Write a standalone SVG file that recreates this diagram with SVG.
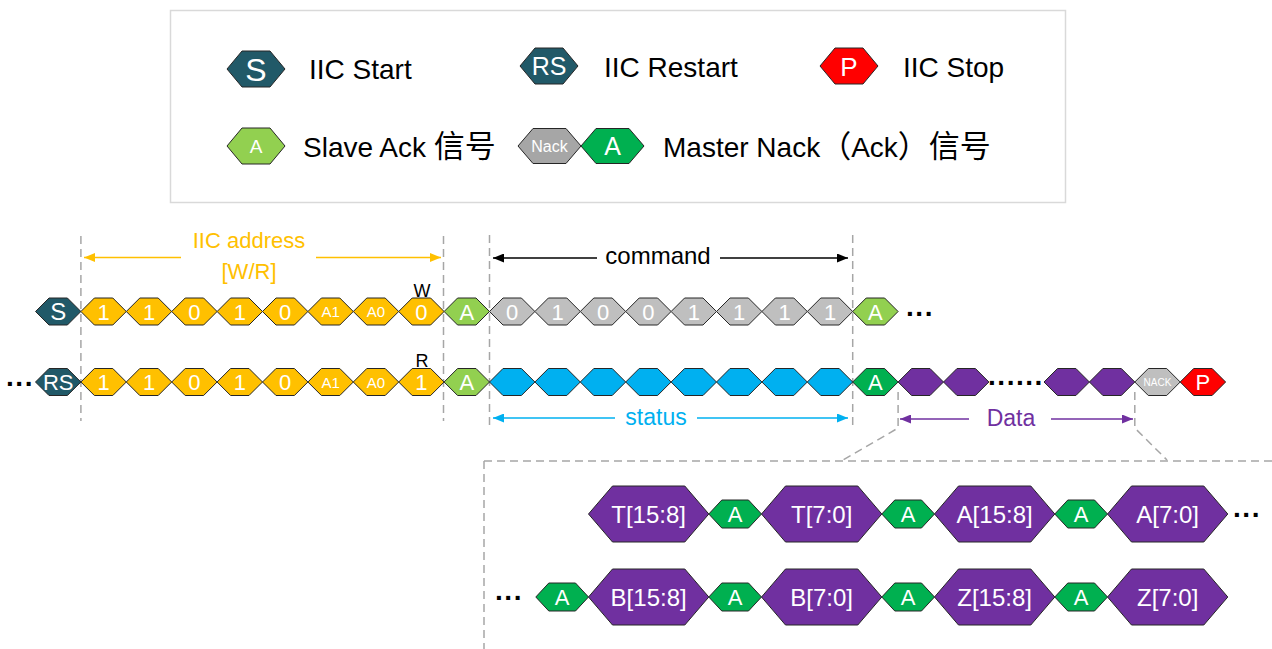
<svg xmlns="http://www.w3.org/2000/svg" width="1272" height="649" viewBox="0 0 1272 649">
<style>
text{font-family:"Liberation Sans","Noto Sans CJK SC",sans-serif}
.n{stroke:#262626;stroke-width:1;stroke-linejoin:miter}
.teal{fill:#215968}.yel{fill:#ffc000}.lg{fill:#92d050}.gr{fill:#bfbfbf}.gr2{fill:#a6a6a6}
.bl{fill:#00b0f0}.dg{fill:#00b050}.pu{fill:#7030a0}.red{fill:#ff0000}
.w{fill:#fff;text-anchor:middle}
.f22{font-size:22px}.f24{font-size:24px}.f14{font-size:15px}
.lbl{font-size:28px;fill:#000}
.cjk{font-size:31px}
.dash{stroke:#a6a6a6;stroke-width:1.5;stroke-dasharray:8 5;fill:none}
.dots{font-size:28px;font-weight:bold;fill:#000}
</style>
<defs>
<polygon id="hx" points="0,0 13.5,-13.5 31.9,-13.5 45.4,0 31.9,13.5 13.5,13.5"/>
<polygon id="lh" points="0,0 15,-18 43,-18 58,0 43,18 15,18"/>
<polygon id="lh2" points="0,0 15,-17.5 48,-17.5 63,0 48,17.5 15,17.5"/>
<polygon id="bh" points="0,0 24,-28 96.3,-28 120.3,0 96.3,28 24,28"/>
<polygon id="sh" points="0,0 13,-14 39.7,-14 52.7,0 39.7,14 13,14"/>
<marker id="mY" markerUnits="userSpaceOnUse" markerWidth="11" markerHeight="9" refX="11" refY="4.5" orient="auto"><path d="M0,0 L11,4.5 L0,9 z" fill="#ffc000"/></marker>
<marker id="mK" markerUnits="userSpaceOnUse" markerWidth="11" markerHeight="9" refX="11" refY="4.5" orient="auto"><path d="M0,0 L11,4.5 L0,9 z" fill="#000"/></marker>
<marker id="mB" markerUnits="userSpaceOnUse" markerWidth="11" markerHeight="9" refX="11" refY="4.5" orient="auto"><path d="M0,0 L11,4.5 L0,9 z" fill="#00b0f0"/></marker>
<marker id="mP" markerUnits="userSpaceOnUse" markerWidth="11" markerHeight="9" refX="11" refY="4.5" orient="auto"><path d="M0,0 L11,4.5 L0,9 z" fill="#7030a0"/></marker>
</defs>
<rect width="1272" height="649" fill="#fff"/>

<!-- legend -->
<g id="legend">
<rect x="170.5" y="10.5" width="895" height="192" fill="#fff" stroke="#d9d9d9" stroke-width="1.5"/>
<g id="leg-start"><use href="#lh" x="227" y="69" class="n teal"/><text x="256" y="81" class="w" font-size="32">S</text><text x="309" y="79" class="lbl">IIC Start</text></g>
<g id="leg-restart"><use href="#lh" x="520" y="66" class="n teal"/><text x="549" y="75" class="w" font-size="25">RS</text><text x="604" y="77" class="lbl">IIC Restart</text></g>
<g id="leg-stop"><use href="#lh" x="820" y="66" class="n red"/><text x="849" y="75.5" class="w" font-size="26">P</text><text x="903" y="77" class="lbl">IIC Stop</text></g>
<g id="leg-slaveack"><use href="#lh" x="227" y="146" class="n lg"/><text x="256" y="153" class="w" font-size="19">A</text><text x="303" y="157" class="lbl">Slave Ack <tspan class="cjk">信号</tspan></text></g>
<g id="leg-masternack"><use href="#lh2" x="518" y="146" class="n gr2"/><text x="549.5" y="152" class="w" font-size="16">Nack</text><use href="#lh2" x="581" y="146" class="n dg"/><text x="612.5" y="155" class="w" font-size="25">A</text><text x="663" y="157" class="lbl">Master Nack<tspan class="cjk">（</tspan>Ack<tspan class="cjk">）信号</tspan></text></g>
</g>

<!-- connectors -->
<g id="connectors">
<line class="dash" x1="80.9" y1="236" x2="80.9" y2="421"/>
<line class="dash" x1="443.5" y1="236" x2="443.5" y2="421"/>
<line class="dash" x1="489.5" y1="235" x2="489.5" y2="428"/>
<line class="dash" x1="852.7" y1="235" x2="852.7" y2="428"/>
<polyline class="dash" points="898.1,392 898.1,428 843,460"/>
<polyline class="dash" points="1134.8,392 1134.8,428 1167,460"/>
<line class="dash" x1="484" y1="461" x2="1272" y2="461"/>
<line class="dash" x1="484" y1="461" x2="484" y2="649"/>
<line x1="181" y1="257.5" x2="84" y2="257.5" stroke="#ffc000" stroke-width="1.3" marker-end="url(#mY)"/>
<line x1="316" y1="257.5" x2="441" y2="257.5" stroke="#ffc000" stroke-width="1.3" marker-end="url(#mY)"/>
<line x1="597" y1="258" x2="493" y2="258" stroke="#000" stroke-width="1.3" marker-end="url(#mK)"/>
<line x1="720" y1="258" x2="848" y2="258" stroke="#000" stroke-width="1.3" marker-end="url(#mK)"/>
<line x1="615" y1="418" x2="493" y2="418" stroke="#00b0f0" stroke-width="1.3" marker-end="url(#mB)"/>
<line x1="697" y1="418" x2="848" y2="418" stroke="#00b0f0" stroke-width="1.3" marker-end="url(#mB)"/>
<line x1="969" y1="419" x2="900" y2="419" stroke="#7030a0" stroke-width="1.3" marker-end="url(#mP)"/>
<line x1="1051" y1="419" x2="1133" y2="419" stroke="#7030a0" stroke-width="1.3" marker-end="url(#mP)"/>
<text x="249" y="248" font-size="22" fill="#ffc000" text-anchor="middle">IIC address</text>
<text x="249" y="279" font-size="22" fill="#ffc000" text-anchor="middle">[W/R]</text>
<text x="658" y="264" font-size="24" fill="#000" text-anchor="middle">command</text>
<text x="656" y="425" font-size="23" fill="#00b0f0" text-anchor="middle">status</text>
<text x="1011" y="426" font-size="23" fill="#7030a0" text-anchor="middle">Data</text>
</g>

<!-- row 1 -->
<g id="row1">
<g id="r1-s"><use href="#hx" x="35.5" y="311.5" class="n teal"/><text x="58.2" y="320" class="w f24">S</text></g>
<g id="r1-b7"><use href="#hx" x="80.9" y="311.5" class="n yel"/><text x="103.6" y="319.5" class="w f22">1</text></g>
<g id="r1-b6"><use href="#hx" x="126.3" y="311.5" class="n yel"/><text x="149" y="319.5" class="w f22">1</text></g>
<g id="r1-b5"><use href="#hx" x="171.7" y="311.5" class="n yel"/><text x="194.4" y="319.5" class="w f22">0</text></g>
<g id="r1-b4"><use href="#hx" x="217.1" y="311.5" class="n yel"/><text x="239.8" y="319.5" class="w f22">1</text></g>
<g id="r1-b3"><use href="#hx" x="262.5" y="311.5" class="n yel"/><text x="285.2" y="319.5" class="w f22">0</text></g>
<g id="r1-b2"><use href="#hx" x="307.9" y="311.5" class="n yel"/><text x="330.6" y="317" class="w f14">A1</text></g>
<g id="r1-b1"><use href="#hx" x="353.3" y="311.5" class="n yel"/><text x="376" y="317" class="w f14">A0</text></g>
<g id="r1-b0"><use href="#hx" x="398.7" y="311.5" class="n yel"/><text x="421.4" y="319.5" class="w f22">0</text><text x="422" y="297" font-size="18" fill="#000" text-anchor="middle">W</text></g>
<g id="r1-ack1"><use href="#hx" x="444.1" y="311.5" class="n lg"/><text x="466.8" y="319.5" class="w f22">A</text></g>
<g id="r1-c7"><use href="#hx" x="489.5" y="311.5" class="n gr"/><text x="512.2" y="319.5" class="w f22">0</text></g>
<g id="r1-c6"><use href="#hx" x="534.9" y="311.5" class="n gr"/><text x="557.6" y="319.5" class="w f22">1</text></g>
<g id="r1-c5"><use href="#hx" x="580.3" y="311.5" class="n gr"/><text x="603" y="319.5" class="w f22">0</text></g>
<g id="r1-c4"><use href="#hx" x="625.7" y="311.5" class="n gr"/><text x="648.4" y="319.5" class="w f22">0</text></g>
<g id="r1-c3"><use href="#hx" x="671.1" y="311.5" class="n gr"/><text x="693.8" y="319.5" class="w f22">1</text></g>
<g id="r1-c2"><use href="#hx" x="716.5" y="311.5" class="n gr"/><text x="739.2" y="319.5" class="w f22">1</text></g>
<g id="r1-c1"><use href="#hx" x="761.9" y="311.5" class="n gr"/><text x="784.6" y="319.5" class="w f22">1</text></g>
<g id="r1-c0"><use href="#hx" x="807.3" y="311.5" class="n gr"/><text x="830" y="319.5" class="w f22">1</text></g>
<g id="r1-ack2"><use href="#hx" x="852.7" y="311.5" class="n lg"/><text x="875.4" y="319.5" class="w f22">A</text></g>
<text x="906" y="323" class="dots">···</text>
</g>

<!-- row 2 -->
<g id="row2">
<text x="6" y="393" class="dots">···</text>
<g id="r2-rs"><use href="#hx" x="35.5" y="382" class="n teal"/><text x="58.2" y="390" class="w f22">RS</text></g>
<g id="r2-b7"><use href="#hx" x="80.9" y="382" class="n yel"/><text x="103.6" y="390" class="w f22">1</text></g>
<g id="r2-b6"><use href="#hx" x="126.3" y="382" class="n yel"/><text x="149" y="390" class="w f22">1</text></g>
<g id="r2-b5"><use href="#hx" x="171.7" y="382" class="n yel"/><text x="194.4" y="390" class="w f22">0</text></g>
<g id="r2-b4"><use href="#hx" x="217.1" y="382" class="n yel"/><text x="239.8" y="390" class="w f22">1</text></g>
<g id="r2-b3"><use href="#hx" x="262.5" y="382" class="n yel"/><text x="285.2" y="390" class="w f22">0</text></g>
<g id="r2-b2"><use href="#hx" x="307.9" y="382" class="n yel"/><text x="330.6" y="387.5" class="w f14">A1</text></g>
<g id="r2-b1"><use href="#hx" x="353.3" y="382" class="n yel"/><text x="376" y="387.5" class="w f14">A0</text></g>
<g id="r2-b0"><use href="#hx" x="398.7" y="382" class="n yel"/><text x="421.4" y="390" class="w f22">1</text><text x="422" y="367" font-size="18" fill="#000" text-anchor="middle">R</text></g>
<g id="r2-ack1"><use href="#hx" x="444.1" y="382" class="n lg"/><text x="466.8" y="390" class="w f22">A</text></g>
<g id="r2-s7"><use href="#hx" x="489.5" y="382" class="n bl"/></g>
<g id="r2-s6"><use href="#hx" x="534.9" y="382" class="n bl"/></g>
<g id="r2-s5"><use href="#hx" x="580.3" y="382" class="n bl"/></g>
<g id="r2-s4"><use href="#hx" x="625.7" y="382" class="n bl"/></g>
<g id="r2-s3"><use href="#hx" x="671.1" y="382" class="n bl"/></g>
<g id="r2-s2"><use href="#hx" x="716.5" y="382" class="n bl"/></g>
<g id="r2-s1"><use href="#hx" x="761.9" y="382" class="n bl"/></g>
<g id="r2-s0"><use href="#hx" x="807.3" y="382" class="n bl"/></g>
<g id="r2-ack2"><use href="#hx" x="852.7" y="382" class="n dg"/><text x="875.4" y="390" class="w f22">A</text></g>
<g id="r2-d1"><use href="#hx" x="898.1" y="382" class="n pu"/></g>
<g id="r2-d2"><use href="#hx" x="943.5" y="382" class="n pu"/></g>
<text x="988" y="392" class="dots">······</text>
<g id="r2-d3"><use href="#hx" x="1044" y="382" class="n pu"/></g>
<g id="r2-d4"><use href="#hx" x="1089.4" y="382" class="n pu"/></g>
<g id="r2-nack"><use href="#hx" x="1134.8" y="382" class="n gr"/><text x="1157.5" y="386" class="w" font-size="10">NACK</text></g>
<g id="r2-p"><use href="#hx" x="1180.2" y="382" class="n red"/><text x="1202.9" y="390" class="w f22">P</text></g>
</g>

<!-- detail row A -->
<g id="detailA">
<g id="dA-t158"><use href="#bh" x="588.5" y="514" class="n pu"/><text x="648.65" y="522.5" class="w f24">T[15:8]</text></g>
<g id="dA-a1"><use href="#sh" x="708.8" y="514" class="n dg"/><text x="735.15" y="522" class="w f22">A</text></g>
<g id="dA-t70"><use href="#bh" x="761.5" y="514" class="n pu"/><text x="821.65" y="522.5" class="w f24">T[7:0]</text></g>
<g id="dA-a2"><use href="#sh" x="881.8" y="514" class="n dg"/><text x="908.15" y="522" class="w f22">A</text></g>
<g id="dA-a158"><use href="#bh" x="934.5" y="514" class="n pu"/><text x="994.65" y="522.5" class="w f24">A[15:8]</text></g>
<g id="dA-a3"><use href="#sh" x="1054.8" y="514" class="n dg"/><text x="1081.15" y="522" class="w f22">A</text></g>
<g id="dA-a70"><use href="#bh" x="1107.5" y="514" class="n pu"/><text x="1167.65" y="522.5" class="w f24">A[7:0]</text></g>
<text x="1233" y="524" class="dots">···</text>
</g>

<!-- detail row B -->
<g id="detailB">
<text x="495" y="607" class="dots">···</text>
<g id="dB-a0"><use href="#sh" x="535.8" y="597" class="n dg"/><text x="562.15" y="605" class="w f22">A</text></g>
<g id="dB-b158"><use href="#bh" x="588.5" y="597" class="n pu"/><text x="648.65" y="605.5" class="w f24">B[15:8]</text></g>
<g id="dB-a1"><use href="#sh" x="708.8" y="597" class="n dg"/><text x="735.15" y="605" class="w f22">A</text></g>
<g id="dB-b70"><use href="#bh" x="761.5" y="597" class="n pu"/><text x="821.65" y="605.5" class="w f24">B[7:0]</text></g>
<g id="dB-a2"><use href="#sh" x="881.8" y="597" class="n dg"/><text x="908.15" y="605" class="w f22">A</text></g>
<g id="dB-z158"><use href="#bh" x="934.5" y="597" class="n pu"/><text x="994.65" y="605.5" class="w f24">Z[15:8]</text></g>
<g id="dB-a3"><use href="#sh" x="1054.8" y="597" class="n dg"/><text x="1081.15" y="605" class="w f22">A</text></g>
<g id="dB-z70"><use href="#bh" x="1107.5" y="597" class="n pu"/><text x="1167.65" y="605.5" class="w f24">Z[7:0]</text></g>
</g>
</svg>
